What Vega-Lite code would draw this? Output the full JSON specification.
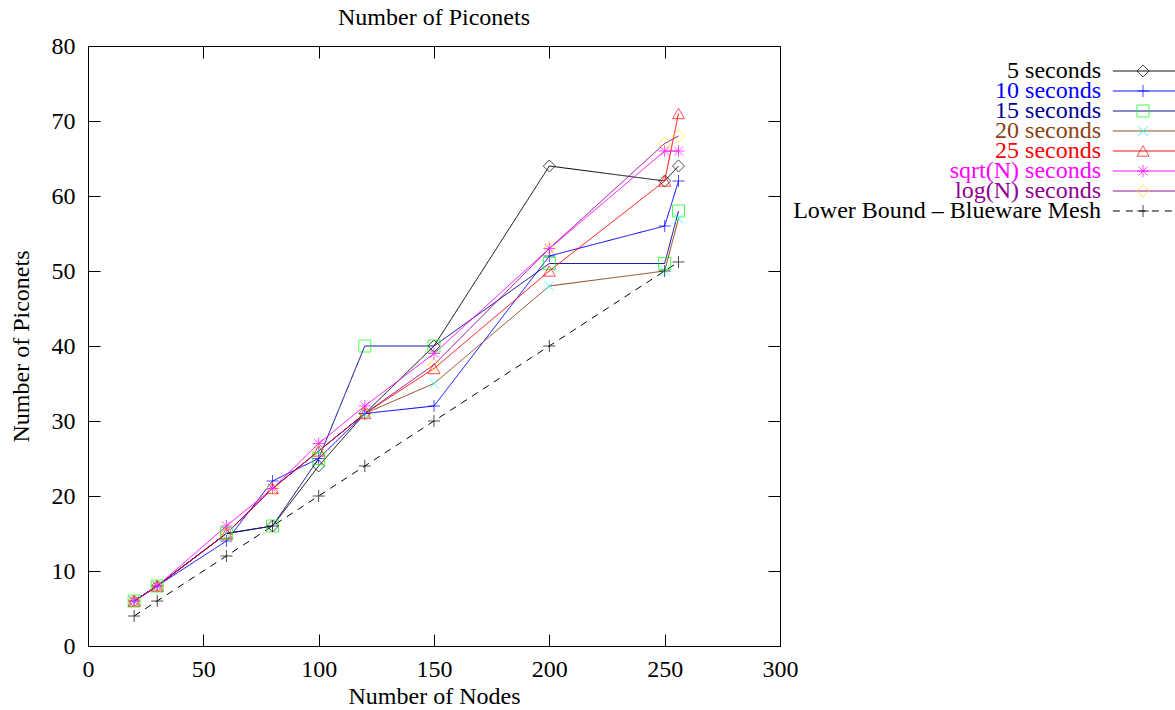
{
  "$schema": "https://vega.github.io/schema/vega-lite/v6.json",
  "width": 692,
  "height": 600,
  "autosize": {"type": "none"},
  "padding": {"left": 88, "top": 46, "right": 395, "bottom": 64},
  "background": "white",
  "title": {"text": "Number of Piconets", "frame": "group", "anchor": "middle", "fontSize": 24, "fontWeight": "normal", "color": "black", "offset": 4},
  "config": {
    "font": "Liberation Serif",
    "view": {"stroke": "black", "strokeWidth": 1},
    "axis": {"labelFontSize": 24, "titleFontSize": 24, "titleFontWeight": "normal", "labelColor": "black", "titleColor": "black", "tickColor": "black", "grid": false, "domain": false, "tickSize": -12, "labelFlush": false, "labelOverlap": false}
  },
  "data": {"values": [
    {"series": "5 seconds", "x": 20, "y": 6}, {"series": "5 seconds", "x": 30, "y": 8}, {"series": "5 seconds", "x": 60, "y": 15}, {"series": "5 seconds", "x": 80, "y": 16}, {"series": "5 seconds", "x": 100, "y": 24}, {"series": "5 seconds", "x": 120, "y": 31}, {"series": "5 seconds", "x": 150, "y": 40}, {"series": "5 seconds", "x": 200, "y": 64}, {"series": "5 seconds", "x": 250, "y": 62}, {"series": "5 seconds", "x": 256, "y": 64},
    {"series": "10 seconds", "x": 20, "y": 6}, {"series": "10 seconds", "x": 30, "y": 8}, {"series": "10 seconds", "x": 60, "y": 14}, {"series": "10 seconds", "x": 80, "y": 22}, {"series": "10 seconds", "x": 100, "y": 25}, {"series": "10 seconds", "x": 120, "y": 31}, {"series": "10 seconds", "x": 150, "y": 32}, {"series": "10 seconds", "x": 200, "y": 52}, {"series": "10 seconds", "x": 250, "y": 56}, {"series": "10 seconds", "x": 256, "y": 62},
    {"series": "15 seconds", "x": 20, "y": 6}, {"series": "15 seconds", "x": 30, "y": 8}, {"series": "15 seconds", "x": 60, "y": 15}, {"series": "15 seconds", "x": 80, "y": 16}, {"series": "15 seconds", "x": 100, "y": 25}, {"series": "15 seconds", "x": 120, "y": 40}, {"series": "15 seconds", "x": 150, "y": 40}, {"series": "15 seconds", "x": 200, "y": 51}, {"series": "15 seconds", "x": 250, "y": 51}, {"series": "15 seconds", "x": 256, "y": 58},
    {"series": "20 seconds", "x": 20, "y": 6}, {"series": "20 seconds", "x": 30, "y": 8}, {"series": "20 seconds", "x": 60, "y": 15}, {"series": "20 seconds", "x": 80, "y": 21}, {"series": "20 seconds", "x": 100, "y": 26}, {"series": "20 seconds", "x": 120, "y": 31}, {"series": "20 seconds", "x": 150, "y": 35}, {"series": "20 seconds", "x": 200, "y": 48}, {"series": "20 seconds", "x": 250, "y": 50}, {"series": "20 seconds", "x": 256, "y": 57},
    {"series": "25 seconds", "x": 20, "y": 6}, {"series": "25 seconds", "x": 30, "y": 8}, {"series": "25 seconds", "x": 60, "y": 15}, {"series": "25 seconds", "x": 80, "y": 21}, {"series": "25 seconds", "x": 100, "y": 26}, {"series": "25 seconds", "x": 120, "y": 31}, {"series": "25 seconds", "x": 150, "y": 37}, {"series": "25 seconds", "x": 200, "y": 50}, {"series": "25 seconds", "x": 250, "y": 62}, {"series": "25 seconds", "x": 256, "y": 71},
    {"series": "sqrt(N) seconds", "x": 20, "y": 6}, {"series": "sqrt(N) seconds", "x": 30, "y": 8}, {"series": "sqrt(N) seconds", "x": 60, "y": 16}, {"series": "sqrt(N) seconds", "x": 80, "y": 21}, {"series": "sqrt(N) seconds", "x": 100, "y": 27}, {"series": "sqrt(N) seconds", "x": 120, "y": 32}, {"series": "sqrt(N) seconds", "x": 150, "y": 39}, {"series": "sqrt(N) seconds", "x": 200, "y": 53}, {"series": "sqrt(N) seconds", "x": 250, "y": 66}, {"series": "sqrt(N) seconds", "x": 256, "y": 66},
    {"series": "log(N) seconds", "x": 20, "y": 6}, {"series": "log(N) seconds", "x": 30, "y": 8}, {"series": "log(N) seconds", "x": 60, "y": 15}, {"series": "log(N) seconds", "x": 80, "y": 21}, {"series": "log(N) seconds", "x": 100, "y": 26}, {"series": "log(N) seconds", "x": 120, "y": 31}, {"series": "log(N) seconds", "x": 150, "y": 37.5}, {"series": "log(N) seconds", "x": 200, "y": 53}, {"series": "log(N) seconds", "x": 250, "y": 67}, {"series": "log(N) seconds", "x": 256, "y": 68},
    {"series": "Lower Bound – Blueware Mesh", "x": 20, "y": 4}, {"series": "Lower Bound – Blueware Mesh", "x": 30, "y": 6}, {"series": "Lower Bound – Blueware Mesh", "x": 60, "y": 12}, {"series": "Lower Bound – Blueware Mesh", "x": 80, "y": 16}, {"series": "Lower Bound – Blueware Mesh", "x": 100, "y": 20}, {"series": "Lower Bound – Blueware Mesh", "x": 120, "y": 24}, {"series": "Lower Bound – Blueware Mesh", "x": 150, "y": 30}, {"series": "Lower Bound – Blueware Mesh", "x": 200, "y": 40}, {"series": "Lower Bound – Blueware Mesh", "x": 250, "y": 50}, {"series": "Lower Bound – Blueware Mesh", "x": 256, "y": 51.2}
  ]},
  "resolve": {"scale": {"x": "independent", "y": "independent"}},
  "layer": [
    {
      "resolve": {"axis": {"x": "independent", "y": "independent"}},
      "layer": [
        {
          "mark": {"type": "line", "strokeWidth": 1},
          "encoding": {
            "x": {"field": "x", "type": "quantitative", "scale": {"domain": [0, 300], "nice": false, "zero": false}, "axis": {"orient": "bottom", "values": [0, 50, 100, 150, 200, 250, 300], "labelPadding": 23, "title": "Number of Nodes", "titlePadding": 3}},
            "y": {"field": "y", "type": "quantitative", "scale": {"domain": [0, 80], "nice": false}, "axis": {"orient": "left", "values": [0, 10, 20, 30, 40, 50, 60, 70, 80], "labelPadding": 25, "title": "Number of Piconets", "titlePadding": 18}},
            "color": {"field": "series", "type": "nominal", "legend": null, "scale": {"domain": ["5 seconds", "10 seconds", "15 seconds", "20 seconds", "25 seconds", "sqrt(N) seconds", "log(N) seconds", "Lower Bound – Blueware Mesh"], "range": ["#000000", "#0000ff", "#000090", "#8b4010", "#ff0000", "#ff00ff", "#900090", "#000000"]}},
            "strokeDash": {"field": "series", "type": "nominal", "legend": null, "scale": {"domain": ["5 seconds", "10 seconds", "15 seconds", "20 seconds", "25 seconds", "sqrt(N) seconds", "log(N) seconds", "Lower Bound – Blueware Mesh"], "range": [[1, 0], [1, 0], [1, 0], [1, 0], [1, 0], [1, 0], [1, 0], [7, 6]]}}
          }
        },
        {
          "mark": {"type": "point", "filled": false, "size": 144, "strokeWidth": 1},
          "encoding": {
            "x": {"field": "x", "type": "quantitative", "axis": {"orient": "top", "values": [0, 50, 100, 150, 200, 250, 300], "labels": false, "title": null}},
            "y": {"field": "y", "type": "quantitative", "axis": {"orient": "right", "values": [0, 10, 20, 30, 40, 50, 60, 70, 80], "labels": false, "title": null}},
            "shape": {"field": "series", "type": "nominal", "legend": null, "scale": {"domain": ["5 seconds", "10 seconds", "15 seconds", "20 seconds", "25 seconds", "sqrt(N) seconds", "log(N) seconds", "Lower Bound – Blueware Mesh"], "range": ["diamond", "M-1,0H1M0,-1V1", "square", "M-0.8,-0.8L0.8,0.8M-0.8,0.8L0.8,-0.8", "triangle-up", "M-1,0H1M0,-1V1M-0.75,-0.75L0.75,0.75M-0.75,0.75L0.75,-0.75", "diamond", "M-1,0H1M0,-1V1"]}},
            "stroke": {"field": "series", "type": "nominal", "legend": null, "scale": {"domain": ["5 seconds", "10 seconds", "15 seconds", "20 seconds", "25 seconds", "sqrt(N) seconds", "log(N) seconds", "Lower Bound – Blueware Mesh"], "range": ["#000000", "#0000ff", "#00ff00", "#00ffff", "#ff0000", "#ff00ff", "#ffe000", "#000000"]}}
          }
        }
      ]
    },
    {
      "transform": [{"filter": "datum.x == 20"}, {"window": [{"op": "row_number", "as": "rank"}]}],
      "layer": [
        {
          "mark": {"type": "text", "align": "right", "baseline": "middle", "fontSize": 24},
          "encoding": {
            "x": {"datum": 1.464, "type": "quantitative", "scale": {"domain": [0, 1], "nice": false, "zero": false}, "axis": null},
            "y": {"field": "rank", "type": "quantitative", "axis": null, "scale": {"domain": [-0.25, 29.75], "reverse": true, "nice": false, "zero": false}},
            "text": {"field": "series"},
            "color": {"field": "series", "type": "nominal", "legend": null}
          }
        },
        {
          "mark": {"type": "rule", "strokeWidth": 1},
          "encoding": {
            "x": {"datum": 1.481, "type": "quantitative"},
            "x2": {"datum": 1.6},
            "y": {"field": "rank", "type": "quantitative", "axis": null},
            "color": {"field": "series", "type": "nominal", "legend": null},
            "strokeDash": {"field": "series", "type": "nominal", "legend": null}
          }
        },
        {
          "mark": {"type": "point", "filled": false, "size": 144, "strokeWidth": 1},
          "encoding": {
            "x": {"datum": 1.5246, "type": "quantitative"},
            "y": {"field": "rank", "type": "quantitative", "axis": null},
            "shape": {"field": "series", "type": "nominal", "legend": null},
            "stroke": {"field": "series", "type": "nominal", "legend": null}
          }
        }
      ]
    }
  ]
}
